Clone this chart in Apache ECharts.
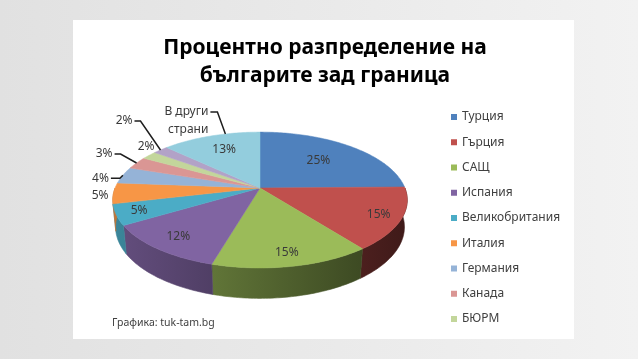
<!DOCTYPE html>
<html><head><meta charset="utf-8">
<script src="https://cdn.jsdelivr.net/npm/echarts@6/dist/echarts.min.js"></script>
<style>html,body{margin:0;padding:0}#c{width:638px;height:359px;background:linear-gradient(90deg,#e1e1e1,#f2f2f2)}</style>
</head><body><div id="c"></div>
<script>
// ---- data ----
const categories = ['Турция','Гърция','САЩ','Испания','Великобритания','Италия','Германия','Канада','БЮРМ','Други','В други страни'];
const values = [25,15,15,12,5,5,4,3,2,2,13];
const legendNames = categories.slice(0,9);
const otherName = 'В други\nстрани';
const titleLines = ['Процентно разпределение на','българите зад граница'];
const credit = 'Графика: tuk-tam.bg';

// ---- style / layout ----
const colors = ['#4f81bd','#c0504d','#9bbb59','#8064a2','#4bacc6','#f79646','#95b3d7','#da9694','#c3d69b','#b2a2c7','#93cddd'];
const FONT = '"Noto Sans", "Open Sans", sans-serif';
const PIE = {cx:260, cy:188, f:729, D:5.03, phi:Math.asin(0.454), h:0.21};
const labelCfg = [
  {mode:'in', r:0.62},
  {mode:'in', r:0.85},
  {mode:'in', r:0.85},
  {mode:'in', r:0.82},
  {mode:'in', r:0.85},
  {mode:'out', dx:-5, dy:2, align:'right'},
  {mode:'leader', elbow:[-3,3], run:-9},
  {mode:'leader', elbow:[-16,-9], run:-6},
  {mode:'out', dx:-3, dy:-9, align:'center'},
  {mode:'leader', elbow:[-20,-29], run:-6},
  {mode:'in', r:0.7, nameLeader:{at:0.65, elbow:[-8,-22], run:-7}}
];

function proj(theta, r, bottom){
  const X = r*Math.sin(theta), Z = r*Math.cos(theta), Y = bottom ? -PIE.h : 0;
  const c = Math.cos(PIE.phi), s = Math.sin(PIE.phi);
  const u = Y*c + Z*s, d = PIE.D + Z*c - Y*s;
  return [PIE.cx + PIE.f*X/d, PIE.cy - PIE.f*u/d];
}
function shade(hex, k){
  const n = parseInt(hex.slice(1),16);
  const r = Math.round(((n>>16)&255)*k), g = Math.round(((n>>8)&255)*k), b = Math.round((n&255)*k);
  return 'rgb('+r+','+g+','+b+')';
}
const total = values.reduce((a,b)=>a+b,0);
const labelStyle = {fill:'#3a3a3a', font:'12px '+FONT};

function makeRender(i){
  return function(params, api){
    const v = api.value(0);
    let cum = 0; for (let k=0;k<i;k++) cum += values[k];
    const a0 = cum/total*2*Math.PI, a1 = (cum+v)/total*2*Math.PI;
    const base = colors[i];
    const ch = [];
    const s0 = Math.max(a0, Math.PI/2), s1 = Math.min(a1, 1.5*Math.PI);
    if (s1 > s0){
      const n = Math.max(2, Math.ceil((s1-s0)/(Math.PI/180)));
      const topArc = [], botArc = [];
      for (let k=0;k<=n;k++){
        const t = s0+(s1-s0)*k/n;
        topArc.push(proj(t,1,false)); botArc.push(proj(t,1,true));
      }
      const xl = proj(1.5*Math.PI,1,false)[0], xr = proj(0.5*Math.PI,1,false)[0];
      const grad = new echarts.graphic.LinearGradient(xl,0,xr,0,[
        {offset:0, color:shade(base,0.78)},
        {offset:0.5, color:shade(base,0.55)},
        {offset:1, color:shade(base,0.33)}
      ], true);
      ch.push({type:'polygon', z2:1, shape:{points:topArc.concat(botArc.reverse())},
        style:{fill:grad, stroke:grad, lineWidth:0.6}});
    }
    const pts = [proj(0,0,false)];
    const m = Math.max(2, Math.ceil((a1-a0)/(Math.PI/180)));
    for (let k=0;k<=m;k++) pts.push(proj(a0+(a1-a0)*k/m,1,false));
    ch.push({type:'polygon', z2:10, shape:{points:pts}, style:{fill:base, stroke:base, lineWidth:0.5}});

    const cfg = labelCfg[i], am = (a0+a1)/2, txt = v+'%';
    if (cfg.mode==='in'){
      const p = proj(am, cfg.r, false);
      ch.push({type:'text', z2:30, style:Object.assign({text:txt, x:p[0], y:p[1], align:'center', verticalAlign:'middle'}, labelStyle)});
    } else if (cfg.mode==='out'){
      const p = proj(am, 1, false);
      ch.push({type:'text', z2:30, style:Object.assign({text:txt, x:p[0]+cfg.dx, y:p[1]+cfg.dy, align:cfg.align, verticalAlign:'middle'}, labelStyle)});
    } else {
      const p = proj(am, 1, false), e = [p[0]+cfg.elbow[0], p[1]+cfg.elbow[1]], q = [e[0]+cfg.run, e[1]];
      ch.push({type:'polyline', z2:30, shape:{points:[p,e,q]}, style:{stroke:'#1e1e1e', lineWidth:1.5, fill:null}});
      ch.push({type:'text', z2:30, style:Object.assign({text:txt, x:q[0]-2, y:q[1], align:'right', verticalAlign:'middle'}, labelStyle)});
    }
    if (cfg.nameLeader){
      const nl = cfg.nameLeader, p = proj(a0+(a1-a0)*nl.at, 1, false);
      const e = [p[0]+nl.elbow[0], p[1]+nl.elbow[1]], q = [e[0]+nl.run, e[1]];
      ch.push({type:'polyline', z2:30, shape:{points:[p,e,q]}, style:{stroke:'#1e1e1e', lineWidth:1.5, fill:null}});
      ch.push({type:'text', z2:30, style:Object.assign({}, labelStyle, {text:otherName, x:q[0]-2, y:q[1]-9, align:'right', verticalAlign:'top', lineHeight:18})});
    }
    return {type:'group', children:ch};
  };
}

const chart = echarts.init(document.getElementById('c'), null, {renderer:'canvas'});
chart.setOption({
  animation:false,
  backgroundColor:'transparent',
  graphic:[
    {type:'rect', z:-10, silent:true, shape:{x:73,y:20,width:501,height:319}, style:{fill:'#ffffff'}},
    {type:'text', x:325, y:48, style:{text:titleLines[0], align:'center', verticalAlign:'middle', font:'bold 21px '+FONT, fill:'#000'}},
    {type:'text', x:325, y:76, style:{text:titleLines[1], align:'center', verticalAlign:'middle', font:'bold 21px '+FONT, fill:'#000'}},
    {type:'text', x:112, y:323, style:{text:credit, align:'left', verticalAlign:'middle', font:'10.5px '+FONT, fill:'#404040'}}
  ],
  legend:{
    data:legendNames, orient:'vertical', left:451, top:110, padding:0,
    itemWidth:6, itemHeight:6, itemGap:11.25, icon:'rect', selectedMode:false,
    textStyle:{fontSize:12, lineHeight:14, color:'#404040', fontFamily:FONT}
  },
  series: categories.map((name,i)=>({
    type:'custom', name:name, coordinateSystem:'none', silent:true,
    itemStyle:{color:colors[i]},
    data:[values[i]],
    renderItem:makeRender(i)
  }))
});
</script></body></html>
